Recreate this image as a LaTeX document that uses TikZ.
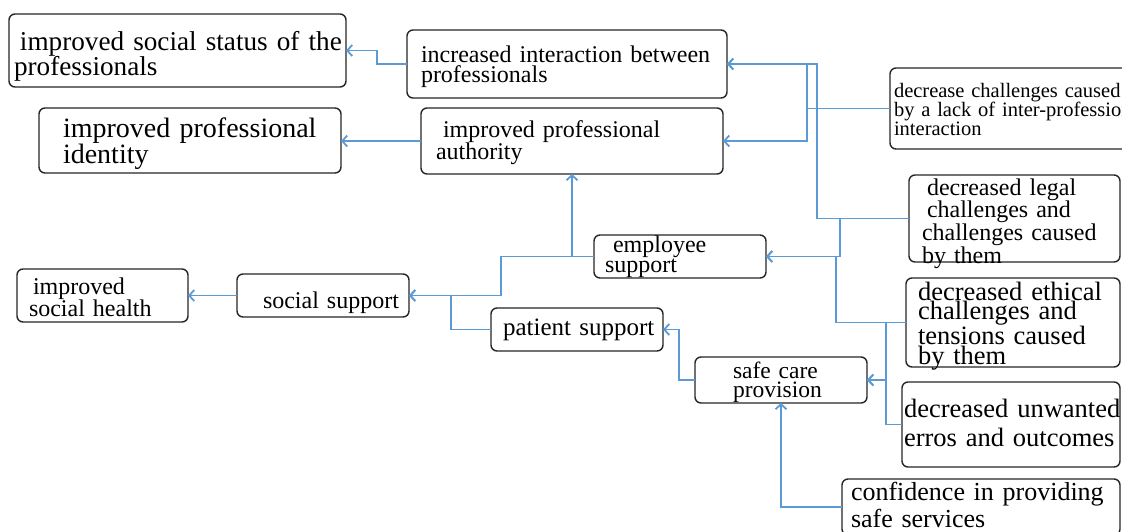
\documentclass[tikz,border=0pt]{standalone}
\usepackage{fontspec}
\setmainfont{Liberation Serif}
\usetikzlibrary{arrows.meta}
\definecolor{lblue}{RGB}{91,155,213}
\tikzset{
  bx/.style={draw=black!85, line width=1.4pt, rounded corners=6pt, anchor=north west,
    inner ysep=0pt, inner xsep=2pt, outer sep=0pt, align=left},
  arr/.style={draw=lblue, line width=1.8pt, -{Straight Barb[length=5pt,width=11pt]}},
  fs/.style 2 args={font={\fontsize{#1}{#2}\selectfont}}
}
\begin{document}
\begin{tikzpicture}[x=1pt,y=-1pt]
\useasboundingbox (0,0) rectangle (1122,531);
\clip (0,0) rectangle (1122,531);
\fill[white] (0,0) rectangle (1122,531);
% boxes
\node[bx, fs={27.2}{20}, text width=333pt, text height=36pt, text depth=37pt] (status) at (9,14)
  {\hspace*{9pt}\mbox{improved social status of the}\\\hspace*{3pt}\mbox{professionals}};
\node[bx, fs={28}{25}, text width=298pt, text height=29pt, text depth=36pt] (identity) at (39,108)
  {\hspace*{22pt}\mbox{improved professional}\\\hspace*{22pt}\mbox{identity}};
\node[bx, fs={24}{20}, text width=316pt, text height=32pt, text depth=36pt] (interact) at (407,30)
  {\hspace*{12pt}\mbox{increased interaction between}\\\hspace*{12pt}\mbox{professionals}};
\node[bx, fs={24}{20}, text width=298pt, text height=29pt, text depth=37pt] (authority) at (421,108)
  {\hspace*{20pt}\mbox{improved professional}\\\hspace*{13pt}\mbox{authority}};
\node[bx, fs={20.5}{19}, text width=236pt, text height=29pt, text depth=52pt] (lack) at (890,68)
  {\hspace*{2pt}\mbox{decrease challenges caused}\\\hspace*{2pt}\mbox{by a lack of inter-professional}\\\hspace*{2pt}\mbox{interaction}};
\node[bx, fs={24}{19.5}, text width=207pt, text height=20pt, text depth=67pt] (legal) at (909,175)
  {\hspace*{16pt}\mbox{decreased legal}\\\hspace*{16pt}\mbox{challenges and}\\\hspace*{11pt}\mbox{challenges caused}\\\hspace*{11pt}\mbox{by them}};
\node[bx, fs={26.5}{19.5}, text width=210pt, text height=22pt, text depth=67pt] (ethical) at (906,278)
  {\hspace*{10pt}\mbox{decreased ethical}\\\hspace*{10pt}\mbox{challenges and}\\\hspace*{10pt}\mbox{tensions caused}\\\hspace*{10pt}\mbox{by them}};
\node[bx, fs={26.5}{29}, text width=214pt, text height=35pt, text depth=50pt] (unwanted) at (902,382)
  {\mbox{decreased unwanted}\\\mbox{erros and outcomes}};
\node[bx, fs={26}{27}, text width=274pt, text height=21pt, text depth=35pt] (confidence) at (842,479)
  {\hspace*{7pt}\mbox{confidence in providing}\\\hspace*{7pt}\mbox{safe services}};
\node[bx, fs={24}{20}, text width=168pt, text height=17pt, text depth=26pt] (employee) at (594,235)
  {\hspace*{17pt}\mbox{employee}\\\hspace*{9pt}\mbox{support}};
\node[bx, fs={24}{20}, text width=168pt, text height=34pt, text depth=9pt] (social) at (237,274)
  {\hspace*{24pt}\mbox{social support}};
\node[bx, fs={24}{19}, text width=167pt, text height=25pt, text depth=28pt] (health) at (17,269)
  {\hspace*{14pt}\mbox{improved}\\\hspace*{10pt}\mbox{social health}};
\node[bx, fs={25}{20}, text width=168pt, text height=27pt, text depth=16pt] (patient) at (491,308)
  {\hspace*{10pt}\mbox{patient support}};
\node[bx, fs={23.5}{19.5}, text width=168pt, text height=21pt, text depth=25pt] (safe) at (695,357)
  {\hspace*{36pt}\mbox{safe care}\\\hspace*{36pt}\mbox{provision}};
% connectors
\draw[arr] (interact.west) -- ++(-30,0) |- (status.east);
\draw[arr] (authority.west) -- (identity.east |- authority.west);
\draw[arr] (lack.west) -- ++(-83,0) |- (interact.east);
\draw[arr] (lack.west) -- ++(-83,0) |- (authority.east);
\draw[arr] (legal.west) -- ++(-92,0) |- (interact.east);
\draw[arr] (legal.west) -- ++(-69,0) |- (employee.east);
\draw[arr] (ethical.west) -- ++(-70,0) |- (employee.east);
\draw[arr] (ethical.west) -- ++(-20,0) |- (safe.east);
\draw[arr] (unwanted.west) -- ++(-16,0) |- (safe.east);
\draw[arr] (confidence.west) -| (safe.south);
\draw[arr] (safe.west) -- ++(-16,0) |- (patient.east);
\draw[arr] (patient.west) -- ++(-40,0) |- (social.east);
\draw[arr] (employee.west) -- ++(-93,0) |- (social.east);
\draw[arr] (employee.west) -| (authority.south);
\draw[arr] (social.west) -- (health.east |- social.west);
\end{tikzpicture}
\end{document}
